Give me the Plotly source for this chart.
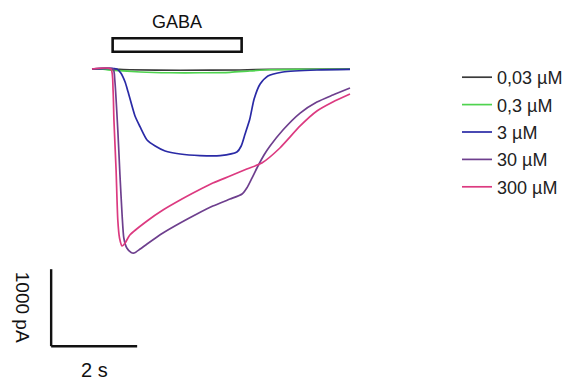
import plotly.graph_objects as go

# ---------------- data (time in s, current in pA) ----------------
labels = ["0,03 µM", "0,3 µM", "3 µM", "30 µM", "300 µM"]
colors = ["#3a3a3a", "#4fd34f", "#2a2aa6", "#6e3f8e", "#dc3a80"]

t_003 = [0, 0.42, 0.88, 2.05, 3.44, 4.14, 6.0]
i_003 = [0, 0, -10, -16, -13, -4, 0]

t_03 = [0, 0.19, 0.53, 1.12, 1.81, 2.51, 3.21, 3.67, 4.14, 4.84, 6.0]
i_03 = [0, 0, -19, -39, -49, -49, -43, -26, -10, -4, -3]

t_3 = [0, 0.58, 0.67, 0.77, 0.84, 1.00, 1.12, 1.28, 1.47, 1.70, 2.05, 2.51,
       2.98, 3.37, 3.47, 3.56, 3.67, 3.77, 3.91, 4.09, 4.44, 5.23, 6.0]
i_3 = [0, 0, -52, -169, -299, -611, -753, -922, -1000, -1065, -1104, -1124,
       -1124, -1078, -1000, -844, -649, -390, -195, -91, -39, -13, -6]

t_30 = [0, 0.49, 0.53, 0.60, 0.65, 0.70, 0.74, 0.81, 0.91, 0.98, 1.12, 1.28,
        1.65, 2.05, 2.44, 2.81, 3.21, 3.49, 3.60, 3.72, 3.86, 4.00, 4.14,
        4.44, 4.84, 5.23, 5.60, 6.0]
i_30 = [0, 0, -143, -792, -1377, -1896, -2195, -2325, -2383, -2390, -2338, -2273,
        -2130, -2000, -1883, -1780, -1689, -1623, -1546, -1416, -1260, -1117, -1000,
        -792, -572, -429, -338, -247]

t_300 = [0, 0.44, 0.49, 0.51, 0.56, 0.60, 0.64, 0.70, 0.77, 0.88, 1.28, 1.65,
         2.05, 2.44, 2.81, 3.21, 3.60, 3.95, 4.37, 4.84, 5.23, 5.60, 6.0]
i_300 = [0, 0, -273, -662, -1312, -1961, -2195, -2299, -2260, -2156, -1974, -1832,
         -1702, -1585, -1481, -1390, -1299, -1221, -1026, -740, -546, -429, -325]

gaba_on, gaba_off = 0.48, 3.48      # s
scale_t, scale_i = 2, 1000          # s, pA
scale_t_label, scale_i_label = "2 s", "1000 pA"

series = [(t_003, i_003), (t_03, i_03), (t_3, i_3), (t_30, i_30), (t_300, i_300)]

# ---------------- layout constants ----------------
W, H = 568, 382
PX_PER_S = 43.0
PX_PER_PA = 0.077
X0_PX, Y0_PX = 92, 69          # pixel of t=0, I=0
FONT = "Liberation Sans, Arial, Helvetica, sans-serif"

fig = go.Figure()
for (t, i), lab, col in zip(series, labels, colors):
    fig.add_trace(go.Scatter(
        x=t, y=i, mode="lines", name=lab, legendgroup=lab,
        line=dict(color=col, width=1.7, shape="spline", smoothing=0.6),
        hoverinfo="skip"))

x_rng = [-X0_PX / PX_PER_S, (W - X0_PX) / PX_PER_S]
y_rng = [(Y0_PX - H) / PX_PER_PA, Y0_PX / PX_PER_PA]

# scale bar origin
sb_t0, sb_i0 = -0.95, -3600

shapes = [
    dict(type="rect", xref="x", yref="y", x0=gaba_on, x1=gaba_off, y0=225, y1=399,
         line=dict(color="#111", width=2.6), fillcolor="white"),
    dict(type="line", xref="x", yref="y", x0=sb_t0, x1=sb_t0, y0=sb_i0, y1=sb_i0 + scale_i,
         line=dict(color="#111", width=2.4)),
    dict(type="line", xref="x", yref="y", x0=sb_t0, x1=sb_t0 + scale_t, y0=sb_i0, y1=sb_i0,
         line=dict(color="#111", width=2.4)),
]

annotations = [
    dict(text="GABA", x=(gaba_on + gaba_off) / 2, y=610, xref="x", yref="y", showarrow=False,
         font=dict(family=FONT, size=18, color="#111"), xanchor="center", yanchor="middle"),
    dict(text=scale_t_label, x=sb_t0 + scale_t / 2, y=-3915, xref="x", yref="y", showarrow=False,
         font=dict(family=FONT, size=20, color="#111"), xanchor="center", yanchor="middle",
         borderpad=0),
    dict(text=scale_i_label, x=-1.63, y=sb_i0 + scale_i / 2, xref="x", yref="y", showarrow=False,
         textangle=90, font=dict(family=FONT, size=19, color="#111"),
         xanchor="center", yanchor="middle"),
]

fig.update_layout(
    width=W, height=H, margin=dict(l=0, r=0, t=0, b=0),
    paper_bgcolor="white", plot_bgcolor="white",
    xaxis=dict(range=x_rng, visible=False, fixedrange=True),
    yaxis=dict(range=y_rng, visible=False, fixedrange=True),
    shapes=shapes, annotations=annotations,
    showlegend=True,
    legend=dict(x=457 / W, y=1 - 59 / H, xanchor="left", yanchor="top",
                font=dict(family=FONT, size=18, color="#222"),
                tracegroupgap=1, bgcolor="rgba(0,0,0,0)", borderwidth=0),
)

fig.write_html(
    "out.html",
    config={"displayModeBar": False},
    post_script="document.body.style.margin='0';document.body.style.overflow='hidden';",
)
